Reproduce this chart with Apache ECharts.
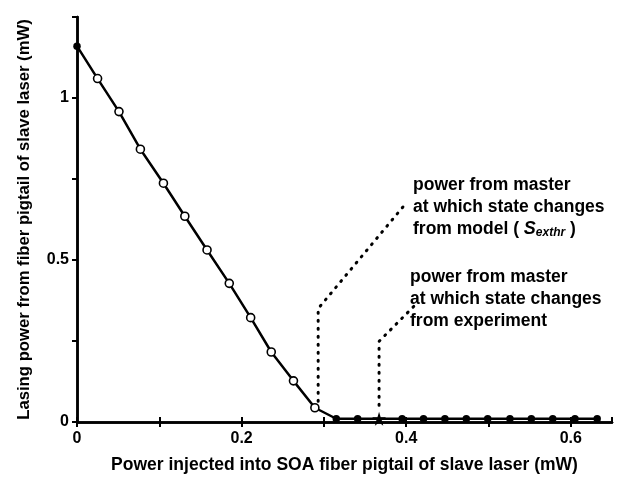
<!DOCTYPE html>
<html>
<head>
<meta charset="utf-8">
<script src="https://cdn.jsdelivr.net/npm/echarts@6/dist/echarts.min.js"></script>
<style>
  html, body { margin: 0; background: #fff; }
  #chart { width: 619px; height: 479px; }
</style>
</head>
<body>
<div id="chart"></div>
<script>
  // injected power (mW) and lasing output (mW)
  var powerIn = [0, 0.025, 0.051, 0.077, 0.105, 0.131, 0.158, 0.185, 0.211, 0.236, 0.263, 0.289,
    0.315, 0.341, 0.367, 0.395, 0.421, 0.447, 0.473, 0.499, 0.526, 0.552, 0.578, 0.605, 0.632];
  var lasingOut = [1.16, 1.06, 0.958, 0.842, 0.737, 0.635, 0.531, 0.428, 0.322, 0.216, 0.127, 0.044,
    0.01, 0.01, 0.01, 0.01, 0.01, 0.01, 0.01, 0.01, 0.01, 0.01, 0.01, 0.01, 0.01];
  // marker kind for every point
  var markerKind = ['filled', 'open', 'open', 'open', 'open', 'open', 'open', 'open', 'open', 'open', 'open', 'open',
    'filled', 'filled', 'star', 'filled', 'filled', 'filled', 'filled', 'filled', 'filled', 'filled', 'filled', 'filled', 'filled'];

  // dotted leader lines to the two notes
  var modelLeadX = [0.293, 0.293, 0.401];
  var modelLeadY = [0.064, 0.350, 0.679];
  var exptLeadX = [0.367, 0.367, 0.410];
  var exptLeadY = [0.052, 0.249, 0.359];

  var xTicks = [0, 0.2, 0.4, 0.6];
  var yTicks = [0, 0.5, 1];

  var FONT = '"Liberation Sans", Arial, sans-serif';
  var STAR = 'path://M50,0 L61,35 L98,35 L68,57 L79,91 L50,70 L21,91 L32,57 L2,35 L39,35 Z';

  function pairs(xs, ys) {
    return xs.map(function (x, i) { return [x, ys[i]]; });
  }

  function pointsOf(kind) {
    var out = [];
    powerIn.forEach(function (x, i) {
      if (markerKind[i] == kind) out.push([x, lasingOut[i]]);
    });
    return out;
  }

  function showTick(list) {
    return function (v) {
      for (var i = 0; i < list.length; i++) {
        if (Math.abs(list[i] - v) < 1e-6) return String(list[i]);
      }
      return '';
    };
  }

  var axisLine = { lineStyle: { color: '#000', width: 2.5 } };
  var tickOut = { inside: false, length: 5, lineStyle: { color: '#000', width: 2 } };
  var tickIn = { inside: true, length: 5, lineStyle: { color: '#000', width: 2 } };
  var dotted = { color: '#000', width: 3, type: [1, 7], cap: 'round' };

  var chart = echarts.init(document.getElementById('chart'));
  chart.setOption({
    animation: false,
    backgroundColor: '#fff',
    grid: { left: 77, right: 7, top: 17, bottom: 55 },
    xAxis: [{
      type: 'value', min: 0, max: 0.65, interval: 0.1, position: 'bottom',
      name: 'Power injected into SOA fiber pigtail of slave laser (mW)',
      nameLocation: 'middle', nameGap: 34,
      nameTextStyle: { fontFamily: FONT, fontWeight: 'bold', fontSize: 17.5, color: '#000' },
      axisLine: axisLine, axisTick: tickOut, splitLine: { show: false },
      axisLabel: { formatter: showTick(xTicks), margin: 9, fontFamily: FONT, fontWeight: 'bold', fontSize: 16, color: '#000', showMaxLabel: false }
    }, {
      type: 'value', min: 0, max: 0.65, interval: 0.1, position: 'top',
      axisLine: axisLine, axisTick: tickOut, splitLine: { show: false }, axisLabel: { show: false }
    }],
    yAxis: [{
      type: 'value', min: 0, max: 1.25, interval: 0.25, position: 'left',
      name: 'Lasing power from fiber pigtail of slave laser (mW)',
      nameLocation: 'middle', nameGap: 44,
      nameTextStyle: { fontFamily: FONT, fontWeight: 'bold', fontSize: 16.7, color: '#000' },
      axisLine: axisLine, axisTick: tickOut, splitLine: { show: false },
      axisLabel: { formatter: showTick(yTicks), margin: 8, fontFamily: FONT, fontWeight: 'bold', fontSize: 16, color: '#000' }
    }, {
      type: 'value', min: 0, max: 1.25, interval: 0.25, position: 'right',
      axisLine: axisLine, axisTick: tickIn, splitLine: { show: false }, axisLabel: { show: false }
    }],
    series: [{
      type: 'line', data: pairs(powerIn, lasingOut), showSymbol: false,
      lineStyle: { color: '#000', width: 2.5 }, z: 3
    }, {
      type: 'scatter', data: pointsOf('open'), symbol: 'circle', symbolSize: 8,
      itemStyle: { color: '#fff', borderColor: '#000', borderWidth: 1.6, opacity: 1 }, z: 4
    }, {
      type: 'scatter', data: pointsOf('filled'), symbol: 'circle', symbolSize: 7.5,
      itemStyle: { color: '#000', opacity: 1 }, z: 4
    }, {
      type: 'scatter', data: pointsOf('star'), symbol: STAR, symbolSize: 14,
      itemStyle: { color: '#000', opacity: 1 }, z: 5
    }, {
      type: 'line', data: pairs(modelLeadX, modelLeadY), showSymbol: false,
      lineStyle: dotted, z: 2
    }, {
      type: 'line', data: pairs(exptLeadX, exptLeadY), showSymbol: false,
      lineStyle: dotted, z: 2
    }],
    graphic: [{
      type: 'text', left: 413, top: 174,
      style: {
        text: 'power from master\nat which state changes\nfrom model ( {s|S}{sub|exthr} )',
        font: 'bold 17.5px ' + FONT, fill: '#000', lineHeight: 22,
        rich: {
          s: { fontFamily: FONT, fontWeight: 'bold', fontStyle: 'italic', fontSize: 18, lineHeight: 22 },
          sub: { fontFamily: FONT, fontWeight: 'bold', fontStyle: 'italic', fontSize: 12, padding: [8, 0, 0, 0], lineHeight: 22 }
        }
      }
    }, {
      type: 'text', left: 410, top: 266,
      style: {
        text: 'power from master\nat which state changes\nfrom experiment',
        font: 'bold 17.5px ' + FONT, fill: '#000', lineHeight: 22
      }
    }]
  });
</script>
</body>
</html>
